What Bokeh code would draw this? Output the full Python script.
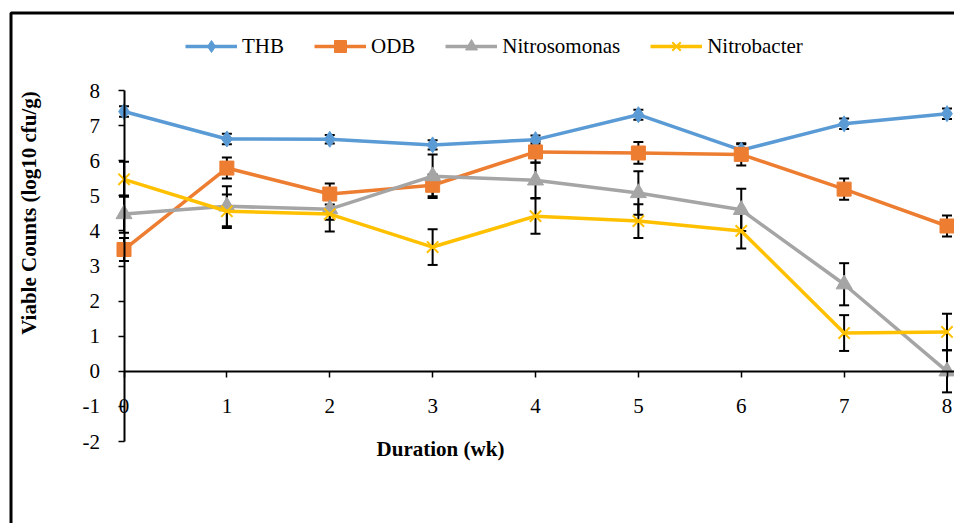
import numpy as np
from bokeh.plotting import figure
from bokeh.models import (Range1d, LinearAxis, FixedTicker, Whisker, TeeHead, PrintfTickFormatter,
                          ColumnDataSource, Legend, LegendItem, Label, BoxAnnotation)
from bokeh.embed import file_html
from bokeh.resources import INLINE

weeks = [0, 1, 2, 3, 4, 5, 6, 7, 8]
thb = [7.40, 6.62, 6.61, 6.45, 6.60, 7.31, 6.30, 7.05, 7.34]
thb_err = [0.15, 0.15, 0.12, 0.13, 0.12, 0.14, 0.17, 0.15, 0.15]
odb = [3.47, 5.79, 5.05, 5.30, 6.25, 6.22, 6.18, 5.19, 4.14]
odb_err = [0.33, 0.30, 0.30, 0.31, 0.30, 0.31, 0.32, 0.30, 0.30]
nitrosomonas = [4.48, 4.70, 4.62, 5.56, 5.44, 5.08, 4.60, 2.48, 0.00]
nitrosomonas_err = [0.53, 0.57, 0.30, 0.62, 0.50, 0.62, 0.60, 0.60, 0.60]
nitrobacter = [5.47, 4.56, 4.48, 3.54, 4.42, 4.28, 4.00, 1.09, 1.12]
nitrobacter_err = [0.50, 0.48, 0.50, 0.51, 0.50, 0.48, 0.50, 0.51, 0.52]
y_ticks = [-2, -1, 0, 1, 2, 3, 4, 5, 6, 7, 8]

FONT = "Liberation Serif"
LEGEND_FONT = "Times New Roman"
W, H = 954, 523
KX, KY = 102.875, 35.1
X0 = -123.5 / KX
Y1 = 8 + 90 / KY

p = figure(frame_width=W, frame_height=H, output_backend="svg", toolbar_location=None,
           x_range=Range1d(X0, X0 + W / KX), y_range=Range1d(Y1 - H / KY, Y1),
           min_border=0, x_axis_type=None, y_axis_type=None)
p.outline_line_color = None

yaxis = LinearAxis(fixed_location=0, bounds=(-2, 8), ticker=FixedTicker(ticks=y_ticks),
                   formatter=PrintfTickFormatter(format="%d"),
                   major_tick_out=6, major_tick_in=0, minor_tick_out=0, minor_tick_in=0,
                   axis_line_width=2, major_tick_line_width=1.5, major_label_standoff=18,
                   major_label_text_font=FONT, major_label_text_font_size="21px",
                   major_label_text_color="black")
p.add_layout(yaxis, "left")

xaxis = LinearAxis(fixed_location=0, bounds=(0, 8.07), ticker=FixedTicker(ticks=weeks),
                   formatter=PrintfTickFormatter(format="%d"),
                   major_tick_out=6, major_tick_in=0, minor_tick_out=0, minor_tick_in=0,
                   axis_line_width=2, major_tick_line_width=1.5, major_label_standoff=22,
                   major_label_text_font=FONT, major_label_text_font_size="21px",
                   major_label_text_color="black")
p.add_layout(xaxis, "below")

series = [
    ("THB", thb, thb_err, "#5B9BD5", "diamond", 16),
    ("ODB", odb, odb_err, "#ED7D31", "square", 14),
    ("Nitrosomonas", nitrosomonas, nitrosomonas_err, "#A5A5A5", "triangle", 16),
    ("Nitrobacter", nitrobacter, nitrobacter_err, "#FFC000", "x", 16),
]

items = []
for name, vals, errs, color, marker, size in series:
    src = ColumnDataSource(dict(x=weeks, y=vals,
                                upper=[v + e for v, e in zip(vals, errs)],
                                lower=[v - e for v, e in zip(vals, errs)]))
    w = Whisker(base="x", upper="upper", lower="lower", source=src, level="underlay",
                line_color="black", line_width=2,
                upper_head=TeeHead(size=10, line_width=2, line_color="black"),
                lower_head=TeeHead(size=10, line_width=2, line_color="black"))
    p.add_layout(w)
    rl = p.line("x", "y", source=src, line_color=color, line_width=3.5)
    if marker == "x":
        rm = p.scatter("x", "y", source=src, marker=marker, size=size,
                       line_color=color, line_width=2)
    else:
        rm = p.scatter("x", "y", source=src, marker=marker, size=size,
                       fill_color=color, line_color=color)
    items.append(LegendItem(label=name, renderers=[rl, rm]))

legend = Legend(items=items, orientation="horizontal", location=(185, H - 61),
                glyph_width=52, glyph_height=30, label_standoff=5, spacing=30,
                padding=0, margin=0, border_line_color=None, background_fill_alpha=0,
                label_text_font=LEGEND_FONT, label_text_font_size="21px",
                label_text_font_style="normal", label_text_color="black")
p.add_layout(legend, "center")

p.add_layout(Label(x=440, y=H - 448, x_units="screen", y_units="screen", text="Duration (wk)",
                   text_font=FONT, text_font_style="bold", text_font_size="21px",
                   text_align="center", text_baseline="middle", text_color="black"))
p.add_layout(Label(x=28.5, y=H - 212.5, x_units="screen", y_units="screen",
                   text="Viable Counts (log10 cfu/g)", angle=np.pi / 2,
                   text_font=FONT, text_font_style="bold", text_font_size="21px",
                   text_align="center", text_baseline="middle", text_color="black"))

p.add_layout(BoxAnnotation(left=10.5, right=3000, top=H - 12.5, bottom=-3000,
                           left_units="screen", right_units="screen",
                           top_units="screen", bottom_units="screen",
                           fill_alpha=0, line_color="black", line_alpha=1.0,
                           line_width=3, level="overlay"))

open("out.html", "w").write(file_html(p, INLINE))
